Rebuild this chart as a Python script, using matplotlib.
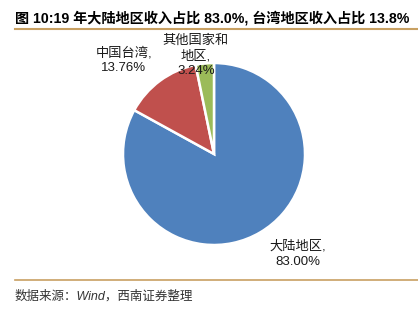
import matplotlib
matplotlib.use("Agg")
import matplotlib.pyplot as plt
from matplotlib.lines import Line2D

plt.rcParams['font.family'] = ['Liberation Sans', 'Noto Sans CJK SC', 'DejaVu Sans']

categories = ['大陆地区', '中国台湾', '其他国家和\n地区']
values = [83.00, 13.76, 3.24]
colors = ['#4F81BD', '#C0504D', '#9BBB59']
title = '图 10:19 年大陆地区收入占比 83.0%, 台湾地区收入占比 13.8%'
source = '数据来源：Wind，西南证券整理'

W, H = 418, 313
fig = plt.figure(figsize=(W / 100, H / 100), dpi=100)

# pie axes: center (214,154), radius ~91 px
r = 91
cx, cy = 214, 154
ax = fig.add_axes([(cx - r) / W, 1 - (cy + r) / H, 2 * r / W, 2 * r / H])
wedges, _ = ax.pie(values, colors=colors, startangle=90, counterclock=False,
                   wedgeprops=dict(edgecolor='white', linewidth=1.8))
ax.set_aspect('equal')
ax.set_xlim(-1, 1)
ax.set_ylim(-1, 1)
ax.axis('off')

labels = [f'{c},\n{v:.2f}%' for c, v in zip(categories, values)]
label_pos = [(298, 254), (124, 60), (196, 56)]
for lab, (x, y) in zip(labels, label_pos):
    fig.text(x / W, 1 - y / H, lab, ha='center', va='center', fontsize=9.5,
             linespacing=1.3, color='#1a1a1a')

fig.text(15 / W, 1 - 18 / H, title, ha='left', va='center', fontsize=10.2,
         fontweight='bold', color='#000000')
fig.add_artist(Line2D([15 / W, 1.0], [1 - 29 / H, 1 - 29 / H], color='#C8A062', linewidth=1.5))
fig.add_artist(Line2D([15 / W, 1.0], [1 - 280 / H, 1 - 280 / H], color='#C8A062', linewidth=1.2))
fig.text(15 / W, 1 - 296 / H, source, ha='left', va='center', fontsize=9,
         style='italic', color='#333333')

fig.savefig('out.png', dpi=100)
